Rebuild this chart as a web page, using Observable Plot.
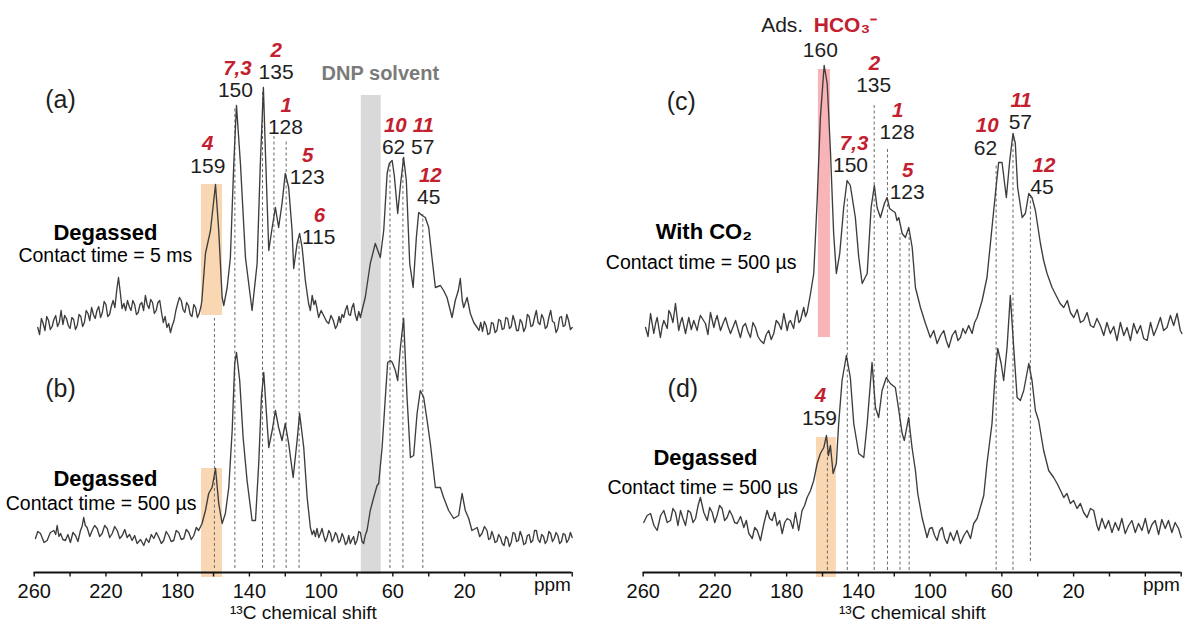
<!DOCTYPE html>
<html><head><meta charset="utf-8">
<script src="https://cdn.jsdelivr.net/npm/d3@7"></script>
<script src="https://cdn.jsdelivr.net/npm/@observablehq/plot@0.6"></script>
<style>
body{margin:0;background:#fff;}
#wrap{position:relative;width:1184px;height:626px;overflow:hidden;background:#fff;}
.panel{position:absolute;top:0;}
</style></head><body>
<div id="wrap"><div id="left" class="panel" style="left:0"></div><div id="right" class="panel" style="left:609px"></div></div>
<script>
// x axis
const ppmTicks = [260,240,220,200,180,160,140,120,100,80,60,40,20,0,-20,-40];
const ppmLabels = [260,220,180,140,100,60,20];

// spectra: [ppm, stacked intensity]
const specA = [[258,245],[257,238],[256,254],[255,249],[254,242],[253,256],[252,252],[251,243],[250,246],[249,253],[248,257],[247,246],[246,250],[245,262],[244,248],[243,257],[242,254],[241,247],[240,244],[239,255],[238,253],[237,243],[236,247],[235,258],[234,256],[233,246],[232,250],[231,262],[230,259],[229,252],[228,265],[227,258],[226,254],[225,262],[224,266],[223,255],[222,260],[221,271],[220,268],[219,256],[218,258],[217,266],[216,272],[215,265],[214,282],[213,295],[212,280],[211,264],[210,269],[209,262],[208,272],[207,266],[206,262],[205,272],[204,268],[203,258],[202,260],[201,268],[200,270],[199,262],[198,277],[197,268],[196,264],[195,273],[194,270],[193,259],[192,262],[191,270],[190,272],[189,260],[188,250],[187,256],[186,245],[185,249],[184,240],[183,247],[182,252],[181,262],[180,269],[179,275],[178,272],[177,263],[176,260],[175,270],[174,267],[173,258],[172,256],[171,268],[170,265],[169,255],[168,259],[167,266],[166.5,272],[164.5,319],[161.7,342],[158.9,388],[157.1,342],[155.2,275],[154.3,267],[152.4,285],[150.6,315],[148.7,409],[147.2,467],[145,409],[142.2,315],[138.5,262],[135.7,309],[133.9,409],[132.2,485],[131.1,422],[129.2,322],[127.3,345],[125.5,365],[123.7,345],[121.8,369],[120,399],[118.1,385],[116.2,342],[115.3,304],[113.4,329],[112,339],[110.6,325],[108.8,292],[107,269],[106,262],[105,277],[104,268],[103.2,272],[102.3,264],[101.4,255],[100,262],[98.6,257],[97,251],[95.8,249],[94.5,257],[93.2,252],[92,244],[91.1,247],[90,256],[89.3,250],[88.3,258],[87.4,255],[86.5,262],[85.5,267],[84.6,258],[83.7,257],[82.8,265],[81.9,269],[81,258],[80,252],[79,261],[78.1,255],[76.8,265],[75.4,275],[72.6,309],[69.8,329],[67,315],[65.1,342],[63.2,399],[62,409],[60.4,412],[59.2,397],[57.3,359],[55.8,387],[54,415],[52.5,392],[50.6,309],[48.7,285],[46.9,335],[45.6,360],[43.7,357],[41.9,355],[40,345],[38.2,315],[36.3,285],[33.5,287],[31.7,282],[29.8,275],[27,255],[25.2,272],[23.5,282],[22.4,294],[21.3,272],[20.5,265],[18.6,275],[16.8,259],[14.9,250],[13,245],[12,242],[11,250],[10,241],[9,251],[8,247],[7,238],[6,239],[5,250],[4,249],[3,240],[2,242],[1,253],[0,252],[-1,243],[-2,244],[-3,255],[-4,254],[-5,244],[-6,246],[-7,257],[-8,251],[-9,242],[-10,242],[-11,253],[-12,250],[-13,241],[-14,245],[-15,258],[-16,256],[-17,246],[-18,247],[-19,255],[-20,262],[-21,250],[-22,248],[-23,258],[-24,254],[-25,244],[-26,246],[-27,255],[-28,262],[-29,251],[-30,250],[-31,240],[-32,244],[-33,255],[-34,256],[-35,246],[-36,247],[-37,258],[-38,252],[-39,243],[-40,245]];

const specB = [[259.3,34],[258,41],[256.5,39],[254.5,30],[252.8,32],[251,40],[249,42],[248,38],[247.2,47],[246.2,36],[245.3,39],[244,33],[242.6,32],[241.2,38],[239.8,30],[238.4,40],[237,37],[235.6,31],[234.2,42],[233.3,46],[232.4,55],[231.5,47],[230.5,45],[229,36],[227.7,42],[226.3,47],[224.9,44],[223.5,36],[222.1,39],[220.7,47],[219.3,44],[217.9,35],[216.5,39],[215.1,46],[213.7,42],[212.3,34],[210.9,37],[209.5,43],[208.2,35],[206.8,38],[205.4,32],[204,37],[202.6,29],[200.7,33],[198.9,27],[197.5,34],[196.1,30],[194.7,38],[193.3,34],[191.9,40],[190.5,35],[189.1,29],[187.8,32],[186.4,41],[185,37],[183.6,31],[182.2,32],[180.8,42],[179.4,40],[178,33],[176.6,34],[175.2,43],[173.8,40],[172.4,33],[171,37],[169.6,45],[168.3,42],[166.4,49],[164.5,62],[162.7,79],[160.8,85],[158.9,104],[157.1,69],[155.2,49],[153.4,59],[151.5,85],[149.6,142],[148.2,209],[147.2,220],[145.4,192],[143.5,135],[141.3,92],[138.5,52],[136.6,52],[134.8,109],[133.3,175],[132,200],[130.5,159],[129.2,125],[127.3,142],[125.5,162],[123.7,145],[121.8,132],[120,149],[118.1,129],[115.6,95],[113.4,132],[112,159],[109.7,125],[107.8,75],[106,45],[105,38],[104.1,42],[103.2,36],[102.3,44],[101.3,35],[100.4,39],[99.5,44],[98.6,37],[97.6,31],[96.7,35],[95.7,42],[94.8,39],[93.9,31],[93,34],[92,40],[91.1,37],[90.2,30],[89.3,32],[88.3,39],[87.4,35],[86.4,28],[85.5,30],[84.6,37],[83.7,29],[82.8,33],[81.9,36],[81,28],[80,32],[79,41],[78.1,40],[77.2,31],[76.3,29],[75.4,37],[74.4,42],[72.6,62],[70.7,75],[68.8,87],[67.9,89],[66,125],[64.2,175],[62.9,210],[61.4,212],[60.3,210],[58.6,202],[57.3,192],[55.8,225],[54,254],[52.1,175],[50.2,115],[48.4,117],[46.5,159],[44.7,182],[42.8,175],[40.9,152],[39.1,129],[36.3,85],[33.5,85],[31.7,75],[28.9,62],[26.1,54],[23.3,57],[21.4,79],[19.6,62],[17.7,54],[15.9,42],[13,45],[11.6,36],[10.3,39],[8.9,46],[7.5,42],[6.6,33],[5.7,34],[4.8,41],[4,37],[3,30],[2,31],[1,38],[0,35],[-1,29],[-2,27],[-3,36],[-4,34],[-5,26],[-6,30],[-7,40],[-8,39],[-9,31],[-10,32],[-11,41],[-12,36],[-13,28],[-14,29],[-15,37],[-16,38],[-17,30],[-18,32],[-19,42],[-20,42],[-21,33],[-22,30],[-23,38],[-24,36],[-25,29],[-26,32],[-27,41],[-28,39],[-29,31],[-30,34],[-31,40],[-32,37],[-33,29],[-34,31],[-35,39],[-36,38],[-37,30],[-38,33],[-39,40],[-40,35]];

const specC = [[258.7,245],[257.3,236],[255.9,259],[254.1,239],[253.1,249],[252.2,255],[250.4,235],[249.4,246],[248.5,252],[246.6,244],[245.7,262],[244.8,259],[243.4,250],[242,269],[240.2,242],[239.2,250],[238.3,255],[236.4,239],[235.5,247],[234.6,255],[233.2,243],[231.8,252],[229.9,242],[229,251],[228.1,257],[225.3,249],[223.9,238],[222.5,260],[220.6,245],[219.7,252],[218.8,257],[216.9,242],[215.5,249],[214.1,255],[212.7,246],[211.3,239],[208.5,252],[207.1,243],[205.8,235],[204.4,246],[203,249],[201.6,241],[200.2,235],[198.8,250],[197.4,245],[196,236],[194.6,232],[192.8,229],[191.4,238],[190,242],[188.6,233],[187.2,239],[185.8,252],[184.4,249],[183,243],[181.6,259],[179.7,242],[178.8,250],[177.9,252],[176.1,244],[175.2,255],[174.2,262],[173.2,250],[172.3,252],[170.5,265],[169.5,256],[168.6,260],[166.7,279],[164.9,299],[163,372],[161.2,455],[159.1,507],[157.4,489],[155.6,422],[153.8,339],[152.3,299],[150.4,319],[148.2,365],[146.3,392],[144.5,387],[141.7,355],[139.8,315],[137.9,289],[135.1,299],[132.9,365],[131.1,387],[129.6,365],[127.7,355],[125.5,369],[124,375],[122.6,364],[121.2,362],[119.5,360],[118.5,352],[117.5,355],[115.6,339],[113.8,335],[111.9,345],[110,325],[108.2,285],[105.4,265],[102.6,249],[99.9,235],[98,242],[96.1,229],[94.2,237],[92.4,242],[91,232],[89.6,225],[87.7,237],[85.9,242],[84.5,232],[83.1,235],[81.7,244],[80.3,239],[78.5,247],[76.6,239],[75.2,250],[73.8,255],[71,272],[68.3,295],[65.5,345],[63.6,379],[61.8,410],[59.9,410],[57.5,375],[55.6,412],[53.8,439],[52.5,429],[51.2,385],[48.7,355],[46.9,359],[45,379],[43.2,375],[41.3,362],[38.5,329],[36.7,312],[34.8,299],[32,285],[29.2,275],[27.5,269],[25.5,265],[23.5,272],[21.8,260],[19.9,255],[18,263],[16.2,250],[14.4,252],[12.5,260],[10.6,247],[8.8,245],[7,254],[5.1,247],[3.2,237],[1.4,250],[-0.5,239],[-2.4,246],[-4.2,232],[-6.1,250],[-8,237],[-9.8,245],[-11.7,232],[-13.5,249],[-15.4,239],[-17.3,247],[-19.1,234],[-21,232],[-22.9,250],[-24.7,237],[-26.5,245],[-28.4,255],[-30.2,242],[-32.1,245],[-34,257],[-35.8,247],[-37.7,259],[-39.5,242],[-40.4,239]];

const specD = [[259.7,50],[257.8,57],[255.9,59],[254,47],[252.2,42],[250.3,57],[248.5,62],[246.6,50],[244.8,52],[243.4,64],[242,60],[240.6,47],[239.2,62],[237.8,54],[236.4,47],[235,62],[233.6,60],[232.2,50],[230.8,54],[229.4,67],[228.1,75],[226.2,60],[224.3,52],[222.9,65],[221.5,60],[220.1,50],[218.8,57],[217.4,67],[216,64],[214.6,52],[213.2,55],[211.8,62],[210.4,57],[209,50],[207.6,49],[205.7,56],[203.9,45],[202.5,52],[201.1,39],[199.2,34],[197.8,45],[196.4,42],[194.6,32],[192.8,48],[190.9,62],[189.5,54],[188.1,52],[186.7,60],[185.3,47],[183.9,52],[182.5,39],[181.1,50],[179.7,54],[177.9,52],[176.5,44],[175.1,60],[173.3,42],[171.4,62],[170,67],[168.6,75],[166.7,82],[164.9,92],[163,109],[161.2,119],[159.3,125],[157.8,137],[156.7,117],[155.6,127],[154.1,99],[152.3,109],[151,149],[149.1,192],[146.7,217],[144.5,195],[142.6,149],[139.8,119],[137,115],[135.1,149],[132.4,210],[130.5,165],[128.7,155],[126.8,182],[124.4,195],[122.2,189],[119.4,185],[117.7,165],[115.6,139],[114.4,132],[112,155],[110.1,125],[108.2,102],[106.9,79],[104.5,55],[101.7,35],[100.3,44],[98.9,45],[97.5,37],[96.1,32],[94.7,42],[93.3,45],[91.9,34],[90.5,29],[88.7,40],[86.9,32],[85,42],[83.1,29],[81.2,37],[79.4,42],[77.5,34],[75.7,49],[73.8,54],[72,65],[70.1,77],[68.3,109],[65.5,149],[63.6,202],[62.3,224],[60.4,209],[59,192],[57.1,225],[55.3,277],[53.4,225],[51.5,175],[49.7,172],[47.8,182],[45,209],[43.2,192],[41.3,162],[39.5,152],[36.7,122],[33.9,102],[31.1,95],[29.2,89],[27.3,82],[25.5,75],[23.7,79],[21.8,69],[20,72],[18.1,64],[16.2,69],[14.4,60],[12.5,55],[10.6,64],[8.8,62],[7,47],[6,42],[4.2,54],[2.3,44],[0.5,52],[-1.4,40],[-3.2,50],[-5.1,42],[-6.9,54],[-8.8,39],[-10.7,47],[-12.5,52],[-14.4,40],[-16.2,49],[-18.1,42],[-20,54],[-21.8,39],[-23.7,48],[-25.5,52],[-27.4,38],[-29.2,53],[-31.1,44],[-32.9,52],[-34.8,40],[-36.6,50],[-38.5,44],[-40,35]];

// shaded bands: ppm range and intensity range
const bandsLeft = [
  {p1:166.7, p2:155, h1:257, h2:388, fill:"#fad7b3"},
  {p1:166.7, p2:155, h1:-5, h2:104, fill:"#fad7b3"},
  {p1:77.6, p2:66.5, h1:-2, h2:477, fill:"#d9d9d9"}
];
const bandsRight = [
  {p1:162.3, p2:155.6, h1:235, h2:503, fill:"#f8b4b6"},
  {p1:163.4, p2:152.3, h1:-5, h2:135, fill:"#fad7b3"}
];

// dashed peak guides
const dashLeft = [
  {p:159.5, top:254, bot:4},{p:148.1, top:464, bot:4},{p:132.7, top:482, bot:4},
  {p:126.3, top:437, bot:4},{p:119.5, top:432, bot:4},{p:112.3, top:332, bot:4},
  {p:61.6, top:410, bot:4},{p:54.4, top:415, bot:4},{p:43.3, top:358, bot:4}
];
const dashRight = [
  {p:157.3, top:132, bot:2},{p:146.2, top:375, bot:2},{p:131.2, top:469, bot:2},
  {p:123.8, top:425, bot:2},{p:116.8, top:339, bot:2},{p:111.7, top:339, bot:2},
  {p:63.2, top:409, bot:2},{p:53.8, top:437, bot:2},{p:44.1, top:375, bot:11}
];

// annotations
const labelsLeft = [
  {t:"(a)", p:245.3, h:473, k:"panel"},
  {t:"(b)", p:245.3, h:184, k:"panel"},
  {t:"4", p:163.2, h:429, k:"site"},
  {t:"159", p:163.2, h:406, k:"num"},
  {t:"7,3", p:146.7, h:504, k:"site"},
  {t:"150", p:147.8, h:482, k:"num"},
  {t:"2", p:125.1, h:522, k:"site"},
  {t:"135", p:125.1, h:500, k:"num"},
  {t:"1", p:119.5, h:467, k:"site"},
  {t:"128", p:119.9, h:445, k:"num"},
  {t:"5", p:107.5, h:417, k:"site"},
  {t:"123", p:107.8, h:395, k:"num"},
  {t:"6", p:101, h:357, k:"site"},
  {t:"115", p:101.3, h:335, k:"num"},
  {t:"10", p:58.6, h:447, k:"site"},
  {t:"62", p:59.6, h:425, k:"num"},
  {t:"11", p:43, h:447, k:"site"},
  {t:"57", p:43.4, h:425, k:"num"},
  {t:"12", p:39.1, h:397, k:"site"},
  {t:"45", p:40, h:375, k:"num"},
  {t:"DNP solvent", p:67, h:499, k:"dnp"},
  {t:"Degassed", p:220.3, h:340, k:"title"},
  {t:"Contact time = 5 ms", p:220.3, h:317, k:"sub"},
  {t:"Degassed", p:220.3, h:94, k:"title"},
  {t:"Contact time = 500 µs", p:222.7, h:69, k:"sub"}
];
const labelsRight = [
  {t:"Ads.", p:170.8, h:547, k:"adsEnd"},
  {t:"HCO₃⁻", p:164.9, h:547, k:"siteStart"},
  {t:"160", p:161.2, h:522, k:"num"},
  {t:"(c)", p:238.8, h:471, k:"panel"},
  {t:"(d)", p:237.9, h:184, k:"panel"},
  {t:"2", p:131.1, h:509, k:"site"},
  {t:"135", p:131.5, h:487, k:"num"},
  {t:"7,3", p:142.4, h:429, k:"site"},
  {t:"150", p:144.4, h:407, k:"num"},
  {t:"1", p:118.1, h:462, k:"site"},
  {t:"128", p:118.4, h:440, k:"num"},
  {t:"5", p:112.5, h:402, k:"site"},
  {t:"123", p:112.8, h:380, k:"num"},
  {t:"10", p:68.2, h:447, k:"site"},
  {t:"62", p:69.2, h:424, k:"num"},
  {t:"11", p:49.3, h:472, k:"site"},
  {t:"57", p:49.7, h:450, k:"num"},
  {t:"12", p:36.5, h:407, k:"site"},
  {t:"45", p:37.6, h:385, k:"num"},
  {t:"4", p:161.2, h:177, k:"site"},
  {t:"159", p:161.7, h:154, k:"num"},
  {t:"With CO₂", p:226.2, h:341, k:"title"},
  {t:"Contact time = 500 µs", p:227.7, h:310, k:"sub"},
  {t:"Degassed", p:225.3, h:115, k:"title"},
  {t:"Contact time = 500 µs", p:226.8, h:85, k:"sub"}
];
const axisTitle = "¹³C chemical shift";
const axisUnit = "ppm";

const RED = "#c3202f", INK = "#1e1e1e", LINE = "#3d3d3d";
const FONT = "'Liberation Sans', Arial, Helvetica, sans-serif";

function textMarks(labels) {
  const base = {x: "p", y: "h", text: "t", fontFamily: FONT};
  const f = k => d => d.k === k;
  return [
    Plot.text(labels, {...base, filter: f("num"), fill: INK, fontSize: 21}),
    Plot.text(labels, {...base, filter: f("site"), fill: RED, fontSize: 20.5, fontWeight: "bold", fontStyle: "italic"}),
    Plot.text(labels, {...base, filter: f("siteStart"), fill: RED, fontSize: 21, fontWeight: "bold", textAnchor: "start"}),
    Plot.text(labels, {...base, filter: f("adsEnd"), fill: INK, fontSize: 21, textAnchor: "end"}),
    Plot.text(labels, {...base, filter: f("panel"), fill: INK, fontSize: 25}),
    Plot.text(labels, {...base, filter: f("title"), fill: "#000", fontSize: 22, fontWeight: "bold"}),
    Plot.text(labels, {...base, filter: f("sub"), fill: "#000", fontSize: 19.5}),
    Plot.text(labels, {...base, filter: f("dnp"), fill: "#7a7a7a", fontSize: 20, fontWeight: "bold"})
  ];
}

function panel(specs, bands, dashes, labels) {
  return Plot.plot({
    width: 575, height: 626,
    marginLeft: 33.7, marginRight: 3.3, marginTop: 0, marginBottom: 54,
    x: {domain: [260, -40], axis: null},
    y: {domain: [0, 572], axis: null},
    color: {type: "identity"},
    style: {fontFamily: FONT, background: "transparent", overflow: "visible"},
    marks: [
      Plot.rect(bands, {x1: "p1", x2: "p2", y1: "h1", y2: "h2", fill: "fill"}),
      Plot.ruleX(dashes, {x: "p", y1: "bot", y2: "top", stroke: "#6a6a6a", strokeWidth: 1, strokeDasharray: "3,2.5"}),
      ...specs.map(s => Plot.line(s, {x: d => d[0], y: d => d[1], stroke: LINE, strokeWidth: 1.35, strokeLinejoin: "round"})),
      Plot.ruleY([0], {x1: 260, x2: -40, stroke: "#111", strokeWidth: 2}),
      Plot.ruleX(ppmTicks, {x: d => d, y1: 0, y2: -4.5, stroke: "#111", strokeWidth: 1.4}),
      Plot.text(ppmLabels, {x: d => d, y: -11, text: d => String(d), lineAnchor: "top", fontSize: 20, fill: "#111", fontFamily: FONT}),
      Plot.text([axisUnit], {x: -39.3, y: -12, text: d => d, textAnchor: "end", fontSize: 19, fill: "#111", fontFamily: FONT}),
      Plot.text([axisTitle], {x: 109.9, y: -40, text: d => d, fontSize: 19, fill: "#111", fontFamily: FONT}),
      ...textMarks(labels)
    ]
  });
}

document.getElementById("left").appendChild(panel([specA, specB], bandsLeft, dashLeft, labelsLeft));
document.getElementById("right").appendChild(panel([specC, specD], bandsRight, dashRight, labelsRight));
</script>
</body></html>
